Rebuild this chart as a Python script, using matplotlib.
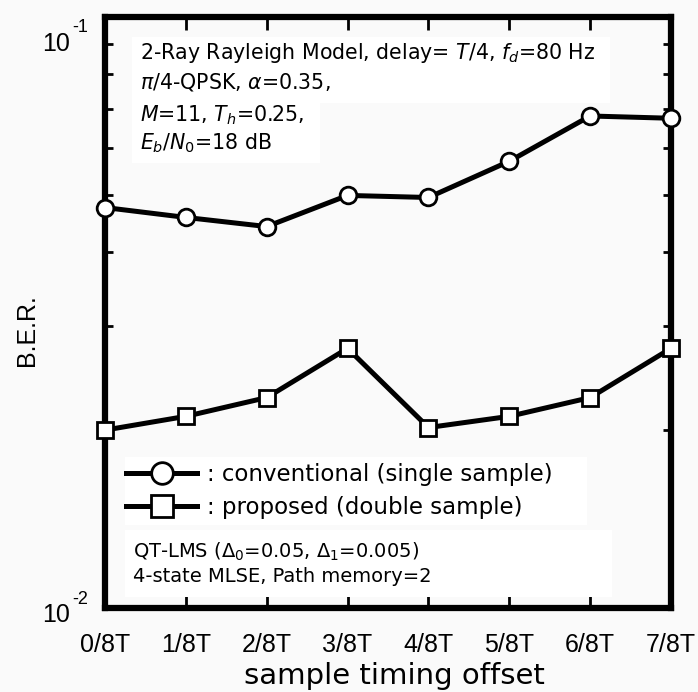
import numpy as np
import matplotlib.pyplot as plt
from matplotlib.patches import Rectangle
from matplotlib.ticker import FixedLocator, NullFormatter

# data
offsets = [0, 1, 2, 3, 4, 5, 6, 7]
offset_labels = ["0/8T", "1/8T", "2/8T", "3/8T", "4/8T", "5/8T", "6/8T", "7/8T"]
ber_conventional = [0.0476, 0.0458, 0.0442, 0.0499, 0.0495, 0.0570, 0.0680, 0.0674]
ber_proposed = [0.0200, 0.0211, 0.0227, 0.0275, 0.0202, 0.0211, 0.0227, 0.0275]

W, H = 698, 692
bg = "#fafafa"
fig = plt.figure(figsize=(W / 100, H / 100), dpi=100, facecolor=bg)
ax = fig.add_axes([105 / W, 1 - 608 / H, 566 / W, 591 / H], facecolor=bg)


def white_box(x0, y0, x1, y1):
    # pixel box (top-left origin) -> white patch in figure coords
    fig.add_artist(Rectangle((x0 / W, 1 - y1 / H), (x1 - x0) / W, (y1 - y0) / H,
                             transform=fig.transFigure, facecolor="white",
                             edgecolor="none", zorder=3))


style = dict(color="black", linewidth=3.6, markersize=12, markeredgewidth=2,
             markerfacecolor="white", markeredgecolor="black", clip_on=False, zorder=5)
l1, = ax.plot(offsets, ber_conventional, marker="o", **style)
l2, = ax.plot(offsets, ber_proposed, marker="s", **style)

ax.set_yscale("log")
ax.set_xlim(0, 7)
ax.set_ylim(0.01, 0.1)

for sp in ax.spines.values():
    sp.set_linewidth(4.5)
    sp.set_zorder(4)

ax.set_xticks(offsets)
ax.set_xticklabels(offset_labels, fontfamily="Liberation Sans", fontsize=18)
ax.yaxis.set_major_locator(FixedLocator([0.01, 0.1]))
ax.yaxis.set_minor_locator(FixedLocator([0.02, 0.03, 0.04, 0.05, 0.06, 0.07, 0.08, 0.09]))
ax.yaxis.set_major_formatter(NullFormatter())
ax.yaxis.set_minor_formatter(NullFormatter())
ax.tick_params(axis="x", direction="in", top=True, length=9, width=2, pad=18)
ax.tick_params(axis="y", which="both", direction="in", right=True, length=6, width=2)

# y tick labels placed like the original (10^-1 sits below the top spine)
lab = dict(fontfamily="Liberation Sans", color="black")
fig.text(42 / W, 1 - 44 / H, "10", fontsize=18, va="center", ha="left", **lab)
fig.text(72 / W, 1 - 28 / H, "-1", fontsize=13, va="center", ha="left", **lab)
fig.text(42 / W, 1 - 615 / H, "10", fontsize=18, va="center", ha="left", **lab)
fig.text(72 / W, 1 - 600 / H, "-2", fontsize=13, va="center", ha="left", **lab)

fig.text(27 / W, 1 - 330 / H, "B.E.R.", rotation=90, fontsize=18,
         va="center", ha="center", **lab)
fig.text(394 / W, 1 - 676 / H, "sample timing offset", fontsize=21,
         va="center", ha="center", fontfamily="DejaVu Sans")

# white panels behind the annotations
white_box(132, 37, 610, 103)
white_box(132, 103, 320, 163)
white_box(125, 457, 587, 525)
white_box(125, 530, 612, 597)

tx = dict(fontsize=14.8, va="center", ha="left", fontfamily="DejaVu Sans", zorder=6)
fig.text(140 / W, 1 - 53 / H, r"2-Ray Rayleigh Model, delay= $T$/4, $f_d$=80 Hz", **tx)
fig.text(140 / W, 1 - 82 / H, r"$\pi$/4-QPSK, $\alpha$=0.35,", **tx)
fig.text(140 / W, 1 - 115 / H, r"$M$=11, $T_h$=0.25,", **tx)
fig.text(140 / W, 1 - 143 / H, r"$E_b$/$N_0$=18 dB", **tx)

tx["fontsize"] = 14
fig.text(133 / W, 1 - 552 / H, r"QT-LMS ($\mathit{\Delta}_0$=0.05, $\mathit{\Delta}_1$=0.005)", **tx)
fig.text(133 / W, 1 - 577 / H, "4-state MLSE, Path memory=2", **tx)

leg = fig.legend([l1, l2], [": conventional (single sample)", ": proposed (double sample)"],
                 loc="center left", bbox_to_anchor=(126 / W, 1 - 491 / H), borderaxespad=0,
                 handlelength=3.1, handletextpad=0.45, labelspacing=0.4, borderpad=0,
                 markerscale=1.3, frameon=False,
                 prop={"family": "DejaVu Sans", "size": 16.5})
leg.set_zorder(6)

fig.savefig("out.png", dpi=100, facecolor=bg)
